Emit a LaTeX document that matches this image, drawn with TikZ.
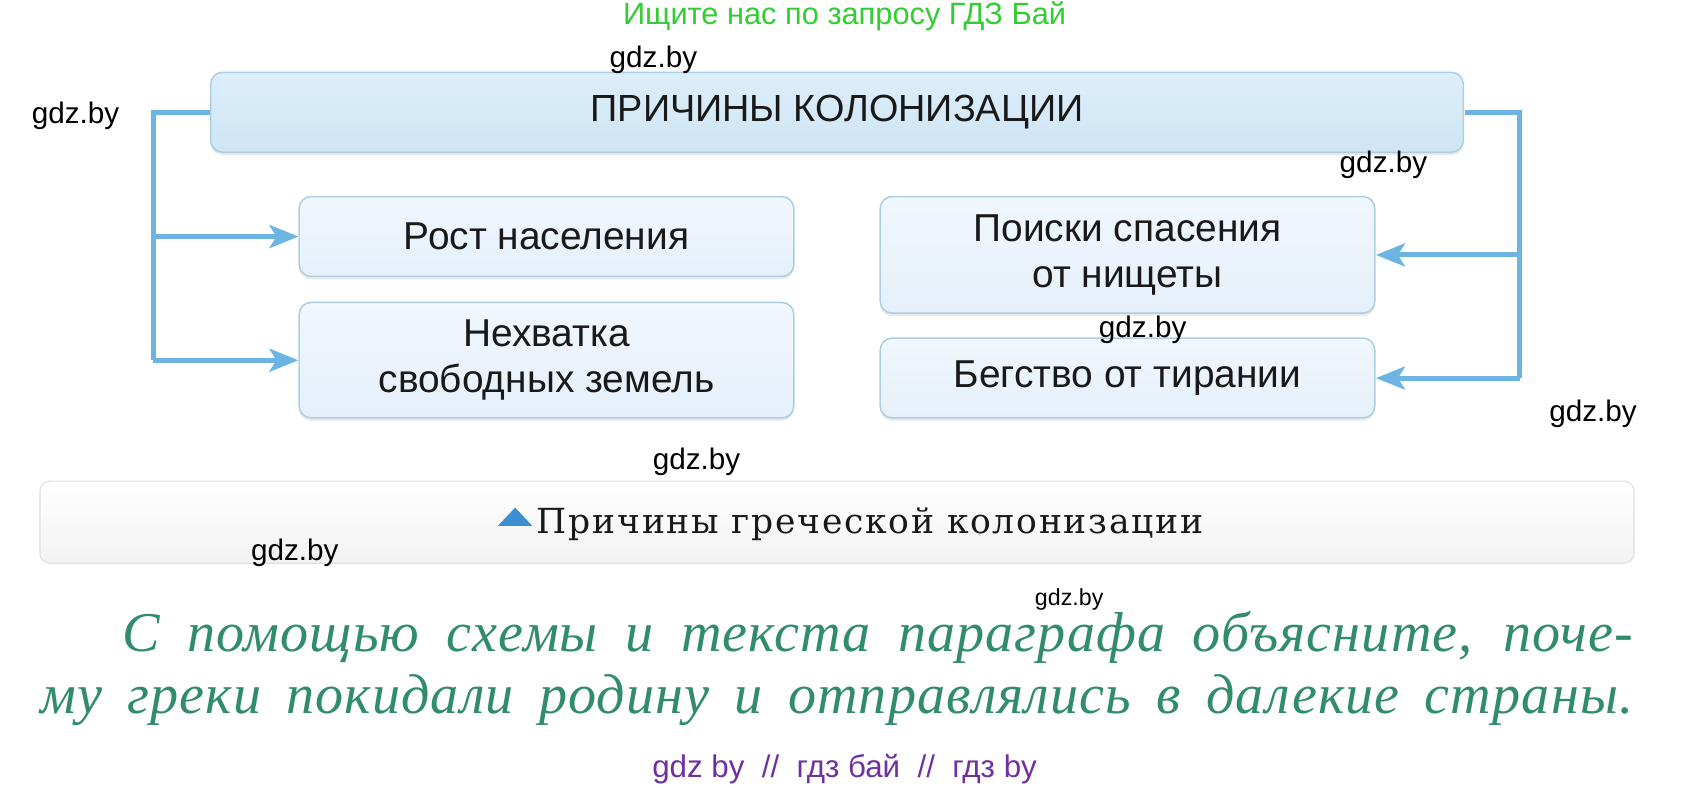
\documentclass[tikz,border=0pt]{standalone}
\usepackage{fontspec}
\setmainfont{Liberation Sans}
\newfontfamily\capfont[LetterSpace=5]{DejaVu Serif}
\newfontfamily\itfont[LetterSpace=2]{Liberation Serif}
\usetikzlibrary{arrows.meta,shadows}
\definecolor{topfill}{HTML}{DCEEFA}
\definecolor{topfillb}{HTML}{CFE5F5}
\definecolor{boxfill}{HTML}{F0F7FD}
\definecolor{boxfillb}{HTML}{E5F0FA}
\definecolor{boxline}{HTML}{ABCEE3}
\definecolor{conncol}{HTML}{6CB5E2}
\definecolor{tricol}{HTML}{3C8ED3}
\definecolor{wmgreen}{HTML}{33CC33}
\definecolor{wmpurple}{HTML}{7030A0}
\definecolor{taskgreen}{HTML}{318C69}
\definecolor{capline}{HTML}{E0E0E0}
\begin{document}
\begin{tikzpicture}[x=1pt,y=-1pt,scale=1.08,
  every node/.append style={transform shape},
  basebox/.style={draw=boxline, line width=1.5pt, rounded corners=12pt, align=center,
    font=\fontsize{36}{43}\selectfont, text=black!90,
    drop shadow={opacity=0.16, shadow xshift=0pt, shadow yshift=-3pt}},
  topbox/.style={basebox, top color=topfill, bottom color=topfillb, font=\fontsize{35}{42}\selectfont},
  subbox/.style={basebox, top color=boxfill, bottom color=boxfillb, minimum width=458pt},
  conn/.style={draw=conncol, line width=5pt},
  arr/.style={conn, -{Stealth[length=29pt,width=23pt,inset=7pt]}},
  wm/.style={font=\fontsize{27.5}{32}\selectfont, text=black}
]
\useasboundingbox (0,0) rectangle (1567.6,729.6);

% watermark top
\node[font=\fontsize{28.5}{32}\selectfont, text=wmgreen] (wtop) at (782,15) {Ищите нас по запросу ГДЗ Бай};

% boxes
\node[topbox, minimum width=1160pt, minimum height=74pt] (top) at (775,104) {ПРИЧИНЫ КОЛОНИЗАЦИИ};
\node[subbox, minimum height=74pt] (l1) at (506,219) {Рост населения};
\node[subbox, minimum height=107pt] (l2) at (506,333.5) {Нехватка\\свободных земель};
\node[subbox, minimum height=108pt] (r1) at (1044,236) {Поиски спасения\\от нищеты};
\node[subbox, minimum height=74pt] (r2) at (1044,350) {Бегство от тирании};

% connectors
\coordinate (lt) at (142,104);
\coordinate (lb) at (142,333.5);
\coordinate (rt) at (1407,104);
\coordinate (rb) at (1407,350);
\draw[conn] (top.west) -- (lt) -- (lb);
\draw[arr] (lt |- l1.west) -- (l1.west);
\draw[arr] (lb) -- (l2.west);
\draw[conn] (top.east) -- (rt) -- (rb);
\draw[arr] (rt |- r1.east) -- (r1.east);
\draw[arr] (rb) -- (r2.east);

% caption
\node[draw=capline, line width=1.2pt, rounded corners=10pt, top color=white, bottom color=black!5,
  minimum width=1476pt, minimum height=76pt] (cap) at (775,483.5) {};
\fill[tricol] (461,487) -- (493,487) -- (477,470) -- cycle;
\node[anchor=base west, font=\capfont\fontsize{32}{34}\selectfont, text=black!90, inner sep=0pt] (captext) at (497,494) {Причины греческой колонизации};

% task text
\node[anchor=base west, inner sep=0pt, text=taskgreen, font=\itfont\itshape\fontsize{52}{58}\selectfont] (t1) at (113,603)
  {\makebox[1399pt][s]{С помощью схемы и текста параграфа объясните, поче-}};
\node[anchor=base west, inner sep=0pt, text=taskgreen, font=\itfont\itshape\fontsize{52}{58}\selectfont] (t2) at (37,661)
  {\makebox[1475pt][s]{му греки покидали родину и отправлялись в далекие страны.}};

% watermarks
\node[wm] (w1) at (605,55) {gdz.by};
\node[wm] (w2) at (70,107) {gdz.by};
\node[wm] (w3) at (1281,153) {gdz.by};
\node[wm] (w4) at (1058,305) {gdz.by};
\node[wm] (w5) at (645,428) {gdz.by};
\node[wm] (w6) at (273,512) {gdz.by};
\node[wm] (w7) at (1475,383) {gdz.by};
\node[font=\fontsize{21.5}{24}\selectfont] (w8) at (990,555) {gdz.by};
\node[font=\fontsize{29}{32}\selectfont, text=wmpurple] (wbot) at (782,712) {gdz by\ \ //\ \ гдз бай\ \ //\ \ гдз by};
\end{tikzpicture}
\end{document}
